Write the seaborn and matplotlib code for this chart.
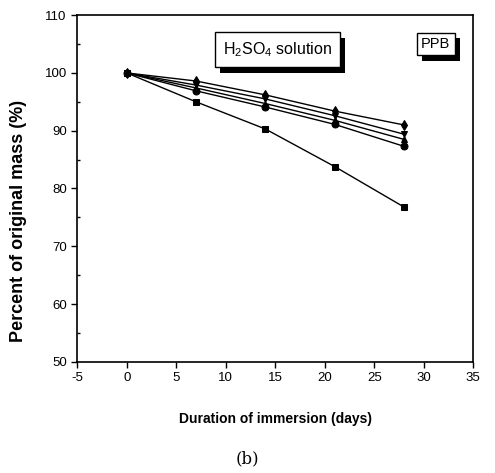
import matplotlib
matplotlib.use('Agg')
import matplotlib.pyplot as plt
import matplotlib.patheffects as pe
from matplotlib.ticker import MultipleLocator
import pandas as pd
import seaborn as sns

days = [0, 7, 14, 21, 28]
series_names = ['s1', 's2', 's3', 's4', 's5']
mass_s1 = [100, 98.6, 96.2, 93.4, 91.0]
mass_s2 = [100, 97.9, 95.5, 92.6, 89.4]
mass_s3 = [100, 97.4, 94.7, 91.8, 88.5]
mass_s4 = [100, 96.9, 94.1, 91.1, 87.3]
mass_s5 = [100, 95.0, 90.3, 83.8, 76.8]
marker_list = ['d', 'v', '^', 'o', 's']

rows = []
for name, vals in zip(series_names, [mass_s1, mass_s2, mass_s3, mass_s4, mass_s5]):
    for d, v in zip(days, vals):
        rows.append((d, v, name))
df = pd.DataFrame(rows, columns=['day', 'mass', 'series'])

sns.set_style('ticks')
plt.rcParams['font.family'] = ['Liberation Sans', 'DejaVu Sans']
plt.rcParams['mathtext.fontset'] = 'custom'
plt.rcParams['mathtext.rm'] = 'Liberation Sans'
plt.rcParams['axes.unicode_minus'] = False
for key in ['text.color', 'axes.labelcolor', 'xtick.color', 'ytick.color']:
    plt.rcParams[key] = 'black'

fig = plt.figure(figsize=(4.95, 4.73), dpi=100)
ax = fig.add_axes([0.156, 0.235, 0.8, 0.733])

sns.lineplot(data=df, x='day', y='mass', style='series', markers=dict(zip(series_names, marker_list)),
             dashes=False, color='black', linewidth=1, markersize=5, markeredgecolor='black',
             legend=False, ax=ax)

ax.set_xlim(-5, 35)
ax.set_ylim(50, 110)
ax.xaxis.set_major_locator(MultipleLocator(5))
ax.yaxis.set_major_locator(MultipleLocator(10))
ax.yaxis.set_minor_locator(MultipleLocator(5))
ax.tick_params(axis='both', which='major', direction='out', length=4, width=1, labelsize=9.5)
ax.tick_params(axis='y', which='minor', direction='in', length=2, width=1)
for s in ax.spines.values():
    s.set_linewidth(1.2)
    s.set_color('black')

ax.set_xlabel('Duration of immersion (days)', fontsize=10, fontweight='bold', labelpad=20)
ax.set_ylabel('Percent of original mass (%)', fontsize=13, fontweight='bold')
ax.yaxis.set_label_coords(-0.128, 0.406)

shadow = [pe.withSimplePatchShadow(offset=(4, -4), shadow_rgbFace='black', alpha=1.0)]
t1 = ax.text(15.2, 104, r'H$_2$SO$_4$ solution', fontsize=11.5, ha='center', va='center',
             bbox=dict(boxstyle='square,pad=0.5', fc='white', ec='black', lw=1))
t1.get_bbox_patch().set_path_effects(shadow)
t2 = ax.text(31.2, 105, 'PPB', fontsize=10.5, ha='center', va='center',
             bbox=dict(boxstyle='square,pad=0.3', fc='white', ec='black', lw=1))
t2.get_bbox_patch().set_path_effects(shadow)

fig.text(0.5, 0.03, '(b)', fontsize=12, ha='center', va='center', family='DejaVu Serif')

fig.savefig('out.png', dpi=100)
